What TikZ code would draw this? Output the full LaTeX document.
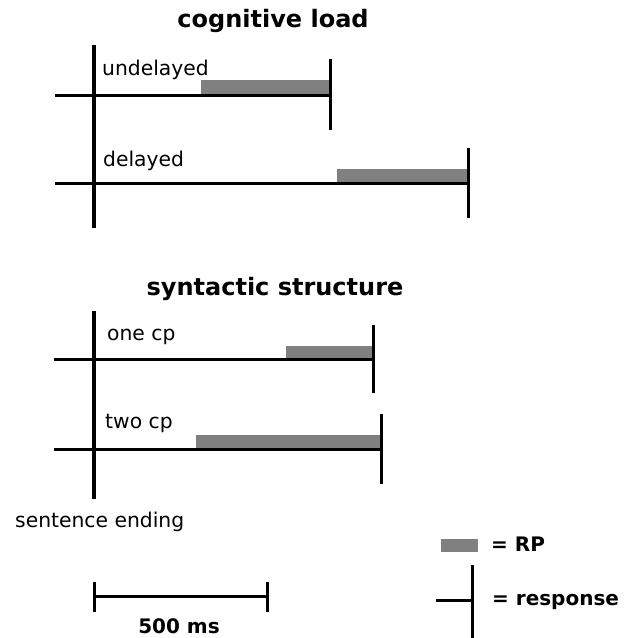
\documentclass[tikz,border=0pt]{standalone}
\usepackage{fontspec}
\setmainfont{DejaVu Sans}
\definecolor{rpgray}{RGB}{128,128,128}
\begin{document}
\begin{tikzpicture}[x=1pt,y=-1pt,
  axisline/.style={line width=4pt},
  timeline/.style={line width=3pt},
  resp/.style={line width=3pt},
  rpbar/.style={fill=rpgray,draw=none},
  lbl/.style={anchor=base west,inner sep=0pt,font=\fontsize{20.3}{23}\selectfont},
  ttl/.style={anchor=base,inner sep=0pt,font=\fontsize{24}{27}\selectfont\bfseries},
  leg/.style={anchor=base west,inner sep=0pt,font=\fontsize{20}{24}\selectfont\bfseries}]
\useasboundingbox (0,0) rectangle (635,638);
% ---------- cognitive load ----------
\node[ttl] (t1) at (273,27) {cognitive load};
\coordinate (a1) at (94,45); \coordinate (a2) at (94,228);
% undelayed
\node[lbl] (u) at (102,75) {undelayed};
\fill[rpbar] (201,80) rectangle (330,95);
\coordinate (u0) at (55,95); \coordinate (u1) at (330,95);
\coordinate (ur1) at (330,59); \coordinate (ur2) at (330,130);
\draw[timeline] (u0) -- (u1);
\draw[resp] (ur1) -- (ur2);
% delayed
\node[lbl] (d) at (103,166) {delayed};
\fill[rpbar] (337,169) rectangle (468,183);
\coordinate (d0) at (55,183); \coordinate (d1) at (468,183);
\coordinate (dr1) at (468,148); \coordinate (dr2) at (468,218);
\draw[timeline] (d0) -- (d1);
\draw[resp] (dr1) -- (dr2);
\draw[axisline] (a1) -- (a2);
% ---------- syntactic structure ----------
\node[ttl] (t2) at (275,295) {syntactic structure};
\coordinate (b1) at (94,311); \coordinate (b2) at (94,499);
% one cp
\node[lbl] (o) at (107,340) {one cp};
\fill[rpbar] (286,346) rectangle (373,359);
\coordinate (o0) at (54,359); \coordinate (o1) at (373,359);
\coordinate (or1) at (373,325); \coordinate (or2) at (373,393);
\draw[timeline] (o0) -- (o1);
\draw[resp] (or1) -- (or2);
% two cp
\node[lbl] (w) at (105,428) {two cp};
\fill[rpbar] (196,435) rectangle (381,449);
\coordinate (w0) at (54,449); \coordinate (w1) at (381,449);
\coordinate (wr1) at (381,414); \coordinate (wr2) at (381,484);
\draw[timeline] (w0) -- (w1);
\draw[resp] (wr1) -- (wr2);
\draw[axisline] (b1) -- (b2);
\node[lbl] (se) at (15,527) {sentence ending};
% ---------- legend ----------
\fill[rpbar] (441,539) rectangle (478,552);
\node[leg] (lrp) at (491,551) {= RP};
\coordinate (l0) at (436,600); \coordinate (l1) at (472,600);
\coordinate (lr1) at (472,565); \coordinate (lr2) at (472,638);
\draw[timeline] (l0) -- (l1);
\draw[resp] (lr1) -- (lr2);
\node[leg] (lresp) at (492,605) {= response};
% ---------- scale bar ----------
\coordinate (s0) at (94,596); \coordinate (s1) at (267,596);
\draw[timeline] (s0) -- (s1);
\draw[resp] (94,582) -- (94,612);
\draw[resp] (267,582) -- (267,612);
\node[leg,anchor=base] (ms) at (179,633) {500 ms};
\end{tikzpicture}
\end{document}
